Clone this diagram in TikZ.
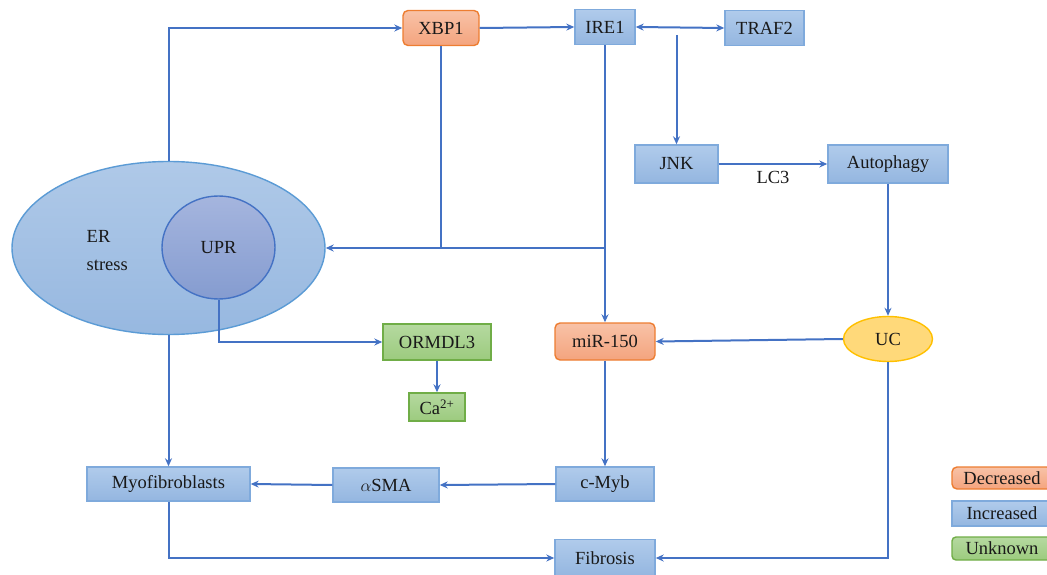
\documentclass[tikz,border=0pt]{standalone}
\usepackage{fontspec}
\setmainfont{Liberation Serif}
\usetikzlibrary{arrows.meta,shapes.geometric}
\definecolor{lineblue}{HTML}{4472C4}
\definecolor{bluetop}{HTML}{B0CBEB}
\definecolor{bluebot}{HTML}{94B6E0}
\definecolor{blueborder}{HTML}{7FAADC}
\definecolor{ortop}{HTML}{F8C2A7}
\definecolor{orbot}{HTML}{F4A47E}
\definecolor{orborder}{HTML}{ED7D31}
\definecolor{grtop}{HTML}{B5D9A0}
\definecolor{grbot}{HTML}{9CCB7E}
\definecolor{grborder}{HTML}{70AD47}
\definecolor{ucfill}{HTML}{FFD97A}
\definecolor{ucborder}{HTML}{FFC000}
\definecolor{ertop}{HTML}{AFC9E8}
\definecolor{erbot}{HTML}{97B8E0}
\definecolor{erborder}{HTML}{5B9BD5}
\definecolor{uprtop}{HTML}{A5B5DE}
\definecolor{uprbot}{HTML}{859CD0}
\tikzset{
  base/.style={font=\fontsize{18.5}{22}\selectfont, text=black!90, inner sep=0pt, line width=1.4pt},
  incbox/.style={base, rectangle, draw=blueborder, top color=bluetop, bottom color=bluebot},
  decbox/.style={base, rectangle, rounded corners=5pt, draw=orborder, top color=ortop, bottom color=orbot},
  unkbox/.style={base, rectangle, draw=grborder, top color=grtop, bottom color=grbot},
  arr/.style={draw=lineblue, line width=2pt, -{Stealth[length=8pt,width=7pt]}},
  ln/.style={draw=lineblue, line width=2pt},
}
\begin{document}
\begin{tikzpicture}[x=1pt,y=-1pt]
\useasboundingbox (0,0) rectangle (1047,575);
% ellipses
\node[base, ellipse, draw=erborder, top color=ertop, bottom color=erbot, minimum width=313, minimum height=173] (ER) at (168.5,248) {};
\node[base, ellipse, draw=lineblue, top color=uprtop, bottom color=uprbot, minimum width=113, minimum height=103] (UPR) at (218.5,247.5) {UPR};
\node[base, anchor=west] (ERt) at (86,236) {ER};
\node[base, anchor=west] (ERs) at (86,265) {stress};
% boxes
\node[decbox, minimum width=76, minimum height=35] (XBP1) at (441,28) {XBP1};
\node[incbox, minimum width=60, minimum height=35] (IRE1) at (605,27) {IRE1};
\node[incbox, minimum width=79, minimum height=35] (TRAF2) at (764.5,28) {TRAF2};
\node[incbox, minimum width=83, minimum height=38] (JNK) at (676.5,164) {JNK};
\node[incbox, minimum width=120, minimum height=38] (AUT) at (888,164) {Autophagy};
\node[base, ellipse, draw=ucborder, fill=ucfill, minimum width=89, minimum height=45] (UC) at (888,339) {UC};
\node[decbox, minimum width=100, minimum height=37] (MIR) at (605,341.5) {miR-150};
\node[unkbox, minimum width=108, minimum height=36] (ORM) at (437,342) {ORMDL3};
\node[unkbox, minimum width=56, minimum height=28] (CA) at (437,407) {Ca\textsuperscript{2+}};
\node[incbox, minimum width=163, minimum height=34] (MYO) at (168.5,484) {Myofibroblasts};
\node[incbox, minimum width=106, minimum height=34] (SMA) at (386,485) {$\alpha$SMA};
\node[incbox, minimum width=98, minimum height=34] (MYB) at (605,484) {c-Myb};
\node[incbox, minimum width=100, minimum height=37] (FIB) at (605,558) {Fibrosis};
% legend
\node[decbox, minimum width=100, minimum height=22] (LD) at (1002,478) {Decreased};
\node[incbox, minimum width=100, minimum height=25] (LI) at (1002,513.5) {Increased};
\node[unkbox, rounded corners=4pt, minimum width=100, minimum height=23] (LU) at (1002,548.5) {Unknown};
% coordinates
\coordinate (jx) at (441,248);
\coordinate (jm) at (605,248);
\coordinate (jt) at (676.5,35);
% connectors
\draw[arr] (ER.north) |- (XBP1.west);
\draw[arr] (XBP1.east) -- (IRE1.west);
\draw[draw=lineblue, line width=2pt, {Stealth[length=8pt,width=7pt]}-{Stealth[length=8pt,width=7pt]}] (IRE1.east) -- (TRAF2.west);
\draw[arr] (jt) -- (JNK.north);
\draw[arr] (JNK.east) -- node[base, below=7pt, fill=none, draw=none] (LC3) {LC3} (AUT.west);
\draw[arr] (AUT.south) -- (UC.north);
\draw[arr] (UC.west) -- (MIR.east);
\draw[arr] (IRE1.south) -- (MIR.north);
\draw[ln] (XBP1.south) -- (jx);
\draw[arr] (jm) -- (ER.east);
\draw[arr] (UPR.south) |- (ORM.west);
\draw[arr] (ORM.south) -- (CA.north);
\draw[arr] (ER.south) -- (MYO.north);
\draw[arr] (MYB.west) -- (SMA.east);
\draw[arr] (SMA.west) -- (MYO.east);
\draw[arr] (MIR.south) -- (MYB.north);
\draw[arr] (MYO.south) |- (FIB.west);
\draw[arr] (UC.south) |- (FIB.east);
\end{tikzpicture}
\end{document}
